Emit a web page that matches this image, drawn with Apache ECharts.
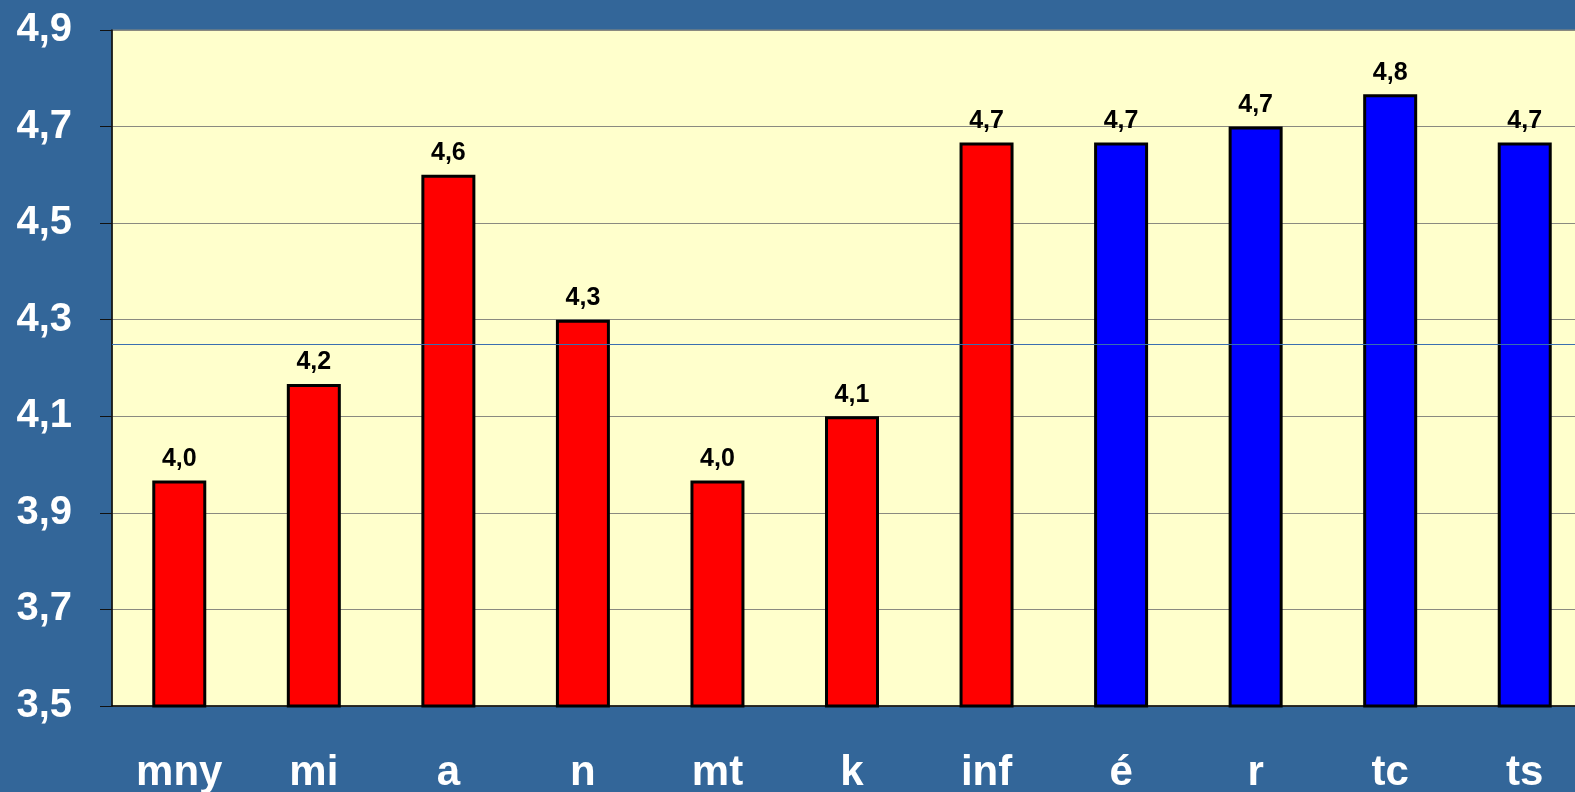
<!DOCTYPE html>
<html>
<head>
<meta charset="utf-8">
<script src="https://cdn.jsdelivr.net/npm/echarts@6/dist/echarts.min.js"></script>
<style>
  html, body { margin: 0; padding: 0; background: #336699; }
  #chart { width: 1575px; height: 792px; }
</style>
</head>
<body>
<div id="chart"></div>
<script>
// categories and values
const categories = ['mny', 'mi', 'a', 'n', 'mt', 'k', 'inf', 'é', 'r', 'tc', 'ts']
const values = [3.967, 4.167, 4.6, 4.3, 3.967, 4.1, 4.667, 4.667, 4.7, 4.767, 4.667]
const barColors = ['#ff0000', '#ff0000', '#ff0000', '#ff0000', '#ff0000', '#ff0000', '#ff0000',
  '#0000ff', '#0000ff', '#0000ff', '#0000ff']
const yTicks = ['3,5', '3,7', '3,9', '4,1', '4,3', '4,5', '4,7', '4,9']
const avgLine = 4.255 // blue horizontal line

const chart = echarts.init(document.getElementById('chart'))

const fmt = v => v.toFixed(1).replace('.', ',')

const option = {
  backgroundColor: '#336699',
  animation: false,
  grid: {
    left: 112,
    top: 30,
    right: -17,
    bottom: 86,
    outerBoundsMode: 'none', // plot runs past the right edge, labels cut at bottom
    show: true,
    backgroundColor: '#ffffcc',
    borderColor: '#8a8a80',
    borderWidth: 1
  },
  xAxis: {
    type: 'category',
    data: categories,
    axisLine: { lineStyle: { color: '#000', width: 1.5 } },
    axisTick: { length: 12, lineStyle: { color: '#111', width: 1 } },
    axisLabel: {
      color: '#fff',
      fontFamily: 'Liberation Sans',
      fontWeight: 'bold',
      fontSize: 42,
      margin: 46
    }
  },
  yAxis: [
    {
      // real value axis for the bars
      type: 'value',
      min: 3.5,
      max: 4.9,
      show: false
    },
    {
      // ticks / labels / gridlines (3,5 .. 4,9 step 0,2)
      type: 'value',
      min: 0,
      max: yTicks.length - 1,
      interval: 1,
      position: 'left',
      axisLine: { show: true, lineStyle: { color: '#000', width: 1.5 } },
      axisTick: { show: true, length: 12, lineStyle: { color: '#111' } },
      splitLine: { show: true, lineStyle: { color: '#8a8a80', width: 1 } },
      axisLabel: {
        color: '#fff',
        fontFamily: 'Liberation Sans',
        fontWeight: 'bold',
        fontSize: 40,
        margin: 40,
        formatter: v => yTicks[v]
      }
    }
  ],
  series: [
    {
      type: 'bar',
      yAxisIndex: 0,
      barWidth: 54,
      data: values.map((v, i) => ({ value: v, itemStyle: { color: barColors[i] } })),
      itemStyle: { borderColor: '#000', borderWidth: 3 },
      label: {
        show: true,
        position: 'top',
        distance: 9,
        color: '#000',
        fontFamily: 'Liberation Sans',
        fontWeight: 'bold',
        fontSize: 25,
        formatter: p => fmt(p.value)
      },
      markLine: {
        silent: true,
        symbol: 'none',
        label: { show: false },
        lineStyle: { color: '#3a6fb0', width: 1, type: 'solid' },
        data: [{ yAxis: avgLine }]
      }
    }
  ]
}

chart.setOption(option)
</script>
</body>
</html>
